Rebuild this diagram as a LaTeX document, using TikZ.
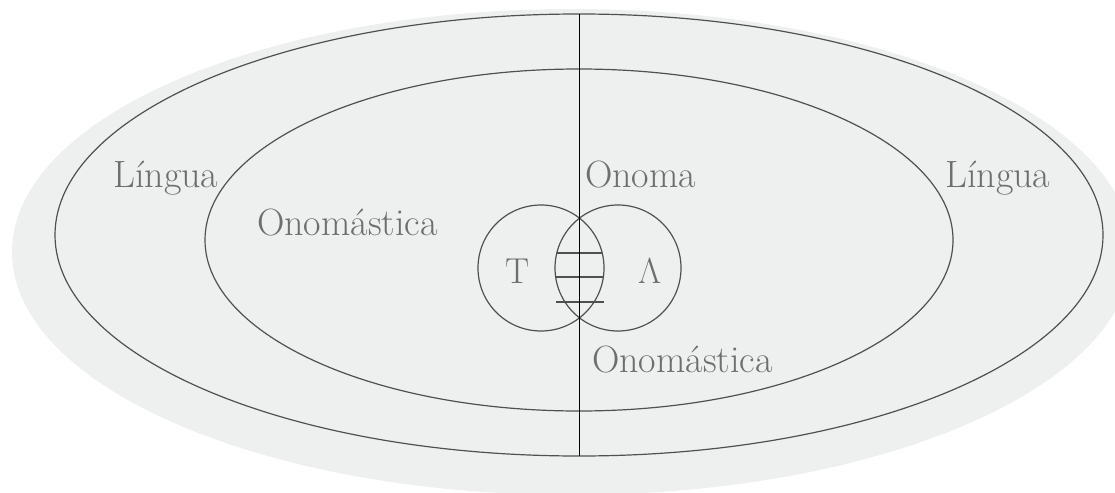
\documentclass[tikz,border=0pt]{standalone}
\usetikzlibrary{shapes.geometric}

\definecolor{paper}{RGB}{238,240,240}
\definecolor{ink}{RGB}{80,80,80}
\definecolor{wordgray}{RGB}{110,110,110}

\begin{document}
\begin{tikzpicture}[
  x=1pt, y=-1pt,
  ring/.style={ellipse, draw=ink, line width=1.2pt, inner sep=0pt, outer sep=0pt},
  disc/.style={circle, draw=ink, line width=1.2pt, minimum size=126pt, inner sep=0pt, outer sep=0pt},
  word/.style={font=\fontsize{38}{40}\selectfont, text=wordgray, inner sep=0pt, anchor=base west},
  letter/.style={font=\fontsize{36}{40}\selectfont, text=wordgray, inner sep=0pt, anchor=base},
  hatch/.style={draw=ink, line width=1.1pt},
  divider/.style={draw=black, line width=0.8pt}
]
\clip (0,0) rectangle (1115,492);

% ---- Background ----
\fill[paper] (572,252) ellipse [x radius=560, y radius=243];

% ---- Ellipses: Lingua / Onomastica ----
\node[ring, minimum width=1048pt, minimum height=442pt] (outer) at (579,235) {};
\node[ring, minimum width=748pt,  minimum height=342pt] (inner) at (579,240) {};

% ---- Circles T and A ----
\node[disc] (circ_t) at (541,268) {};
\node[disc] (circ_a) at (618,268) {};

% lens hatching
\begin{scope}
  \clip (circ_t.center) circle [radius=63];
  \clip (circ_a.center) circle [radius=63];
  \draw[hatch] (540,253) -- (620,253);
  \draw[hatch] (540,277) -- (620,277);
\end{scope}
\draw[hatch] (556,302) -- (604,302);

% ---- Vertical axis ----
\draw[divider] (outer.north) -- (outer.south);

% ---- Labels ----
\node[word] (lingua_left)  at (113,187) {Língua};
\node[word] (lingua_right) at (945,187) {Língua};
\node[word] (onoma)        at (585,187) {Onoma};
\node[word] (onom_left)    at (257,235) {Onomástica};
\node[word] (onom_bottom)  at (592,372) {Onomástica};

\node[letter] (lbl_t) at (518,283) {T};
\node[letter] (lbl_a) at (650,283) {Λ};

\end{tikzpicture}
\end{document}
